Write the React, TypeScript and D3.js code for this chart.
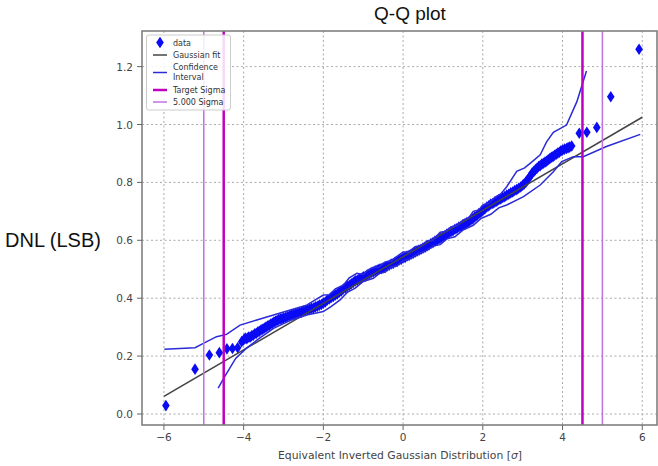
import React from 'react'
import * as d3 from 'd3'

// quantile positions and measured DNL of each code
const dataX = [-5.95, -5.22, -4.86, -4.61, -4.42, -4.28, -4.15,
  -4.05, -4.00, -3.96, -3.92, -3.88, -3.84, -3.80, -3.76, -3.72, -3.68, -3.64, -3.60, -3.56, -3.52, -3.48, -3.44, -3.40, -3.36, -3.32, -3.28, -3.24, -3.20, -3.16, -3.12, -3.08, -3.04,
  -3.00, -2.95, -2.90, -2.85, -2.80, -2.75, -2.70, -2.65, -2.60, -2.55, -2.50, -2.45, -2.40, -2.35, -2.30, -2.25, -2.20, -2.15, -2.10, -2.05,
  -2.00, -1.95, -1.90, -1.85, -1.80, -1.75, -1.70, -1.65, -1.60, -1.55, -1.50, -1.45, -1.40, -1.35, -1.30, -1.25, -1.20, -1.15, -1.10, -1.05,
  -1.00, -0.95, -0.90, -0.85, -0.80, -0.75, -0.70, -0.65, -0.60, -0.55, -0.50, -0.45, -0.40, -0.35, -0.30, -0.25, -0.20, -0.15, -0.10, -0.05,
  0.00, 0.05, 0.10, 0.15, 0.20, 0.25, 0.30, 0.35, 0.40, 0.45, 0.50, 0.55, 0.60, 0.65, 0.70, 0.75, 0.80, 0.85, 0.90, 0.95,
  1.00, 1.05, 1.10, 1.15, 1.20, 1.25, 1.30, 1.35, 1.40, 1.45, 1.50, 1.55, 1.60, 1.65, 1.70, 1.75, 1.80, 1.85, 1.90, 1.95,
  2.00, 2.05, 2.10, 2.15, 2.20, 2.25, 2.30, 2.35, 2.40, 2.45, 2.50, 2.55, 2.60, 2.65, 2.70, 2.75, 2.80, 2.85, 2.90, 2.95,
  3.00, 3.04, 3.08, 3.12, 3.16, 3.20, 3.24, 3.28, 3.32, 3.36, 3.40, 3.44, 3.48, 3.52, 3.56, 3.60, 3.64, 3.68, 3.72, 3.76, 3.80, 3.84, 3.88, 3.92, 3.96,
  4.00, 4.05, 4.10, 4.14, 4.18, 4.23, 4.42, 4.61, 4.86, 5.21, 5.92]
const dataY = [0.029, 0.155, 0.204, 0.212, 0.225, 0.226, 0.229,
  0.250, 0.256, 0.262, 0.260, 0.266, 0.265, 0.270, 0.272, 0.277, 0.279, 0.284, 0.286, 0.291, 0.293, 0.297, 0.300, 0.304, 0.306, 0.311, 0.313, 0.318, 0.320, 0.323, 0.326, 0.328, 0.329,
  0.332, 0.333, 0.337, 0.339, 0.343, 0.344, 0.347, 0.348, 0.351, 0.352, 0.356, 0.357, 0.361, 0.362, 0.365, 0.366, 0.370, 0.372, 0.376, 0.378,
  0.383, 0.387, 0.394, 0.397, 0.403, 0.406, 0.411, 0.415, 0.421, 0.425, 0.432, 0.435, 0.441, 0.444, 0.450, 0.454, 0.460, 0.462, 0.467, 0.469,
  0.474, 0.476, 0.481, 0.484, 0.489, 0.491, 0.495, 0.497, 0.501, 0.502, 0.505, 0.507, 0.511, 0.514, 0.518, 0.520, 0.525, 0.527, 0.532, 0.534,
  0.539, 0.541, 0.546, 0.548, 0.552, 0.555, 0.559, 0.562, 0.566, 0.569, 0.573, 0.576, 0.581, 0.584, 0.589, 0.592, 0.597, 0.600, 0.605, 0.608,
  0.613, 0.616, 0.622, 0.625, 0.630, 0.633, 0.638, 0.641, 0.646, 0.648, 0.653, 0.656, 0.661, 0.664, 0.670, 0.674, 0.681, 0.685, 0.692, 0.696,
  0.703, 0.708, 0.715, 0.719, 0.725, 0.727, 0.732, 0.735, 0.740, 0.743, 0.748, 0.751, 0.756, 0.759, 0.764, 0.767, 0.772, 0.775, 0.780, 0.784,
  0.790, 0.795, 0.801, 0.808, 0.816, 0.824, 0.833, 0.838, 0.844, 0.849, 0.855, 0.858, 0.863, 0.866, 0.870, 0.873, 0.878, 0.882, 0.887, 0.889, 0.894, 0.897, 0.901, 0.904, 0.909,
  0.911, 0.915, 0.917, 0.920, 0.922, 0.926, 0.970, 0.973, 0.990, 1.096, 1.260]

const fitX = [-6, 6]
const fitY = [0.061, 1.025]

const upperX = [-5.99, -5.22, -5.01, -4.68, -4.43, -4.09, -3.67, -3.25, -2.83, -2.42, -2.0, -1.85, -1.7, -1.5, -1.35, -1.16, -1.0, -0.9, -0.75, -0.6, -0.45, -0.3, -0.15, 0, 0.15, 0.3, 0.45, 0.6, 0.75, 0.93, 1.05, 1.2, 1.35, 1.5, 1.65, 1.76, 1.9, 2.0, 2.15, 2.3, 2.45, 2.6, 2.85, 3.05, 3.27, 3.44, 3.6, 3.77, 4.1, 4.36, 4.6]
const upperY = [0.224, 0.229, 0.244, 0.267, 0.275, 0.307, 0.325, 0.342, 0.359, 0.376, 0.411, 0.412, 0.432, 0.445, 0.470, 0.486, 0.482, 0.495, 0.505, 0.508, 0.525, 0.528, 0.545, 0.560, 0.560, 0.578, 0.582, 0.598, 0.600, 0.628, 0.630, 0.645, 0.650, 0.670, 0.678, 0.700, 0.705, 0.722, 0.728, 0.748, 0.760, 0.785, 0.838, 0.850, 0.875, 0.895, 0.940, 0.973, 0.998, 1.079, 1.185]
const lowerX = [-4.64, -4.45, -4.2, -3.95, -3.6, -3.25, -2.8, -2.42, -2.0, -1.8, -1.58, -1.4, -1.2, -1.0, -0.745, -0.6, -0.45, -0.3, -0.15, 0, 0.15, 0.4, 0.6, 0.75, 0.93, 1.1, 1.3, 1.5, 1.76, 1.95, 2.2, 2.4, 2.6, 3.02, 3.44, 3.77, 3.98, 4.27, 4.52, 5.1, 5.95]
const lowerY = [0.089, 0.135, 0.192, 0.225, 0.262, 0.296, 0.325, 0.342, 0.354, 0.372, 0.394, 0.420, 0.435, 0.458, 0.469, 0.485, 0.490, 0.508, 0.512, 0.530, 0.535, 0.555, 0.565, 0.580, 0.585, 0.605, 0.612, 0.635, 0.652, 0.675, 0.690, 0.712, 0.722, 0.751, 0.791, 0.837, 0.872, 0.889, 0.889, 0.924, 0.966]

const targetSigma = 4.5
const fiveSigma = 5
const xTicks = [-6, -4, -2, 0, 2, 4, 6]
const yTicks = [0, 0.2, 0.4, 0.6, 0.8, 1.0, 1.2]
const legendLabels = ['data', 'Gaussian fit', 'Confidence', 'Interval', 'Target Sigma', '5.000 Sigma']

const W = 658
const H = 466
const left = 142, right = 657, top = 31, bottom = 425

const BLUE = '#0a0af5'
const CI = '#2a2ad8'
const MAG = '#c000c0'
const VIO = '#c070e0'
const FONT = '"DejaVu Sans", sans-serif'

const App = () => {
  const x = d3.scaleLinear().domain([-6.55, 6.37]).range([left, right])
  const y = d3.scaleLinear().domain([-0.038, 1.323]).range([bottom, top])

  const line = d3.line<[number, number]>().x(d => x(d[0])).y(d => y(d[1]))
  const zip = (a: number[], b: number[]) => a.map((v, i) => [v, b[i]] as [number, number])
  const diamond = (cx: number, cy: number) =>
    `M${cx},${cy - 5.8}L${cx + 3.8},${cy}L${cx},${cy + 5.8}L${cx - 3.8},${cy}Z`

  const vLines = [
    { v: -fiveSigma, c: VIO, w: 1.5 },
    { v: fiveSigma, c: VIO, w: 1.5 },
    { v: -targetSigma, c: MAG, w: 2.5 },
    { v: targetSigma, c: MAG, w: 2.5 },
  ]

  const lx = 153, ltx = 173
  return (
    <svg width={W} height={H} style={{ position: 'absolute', left: 0, top: 0, background: '#fff' }}>
      <text x={410} y={20} textAnchor="middle" fontFamily="Arial, 'Liberation Sans', sans-serif" fontSize={19} fill="#111">Q-Q plot</text>
      <text x={5} y={247} fontFamily="Arial, 'Liberation Sans', sans-serif" fontSize={20} fill="#111">DNL (LSB)</text>

      <g stroke="#aaa" strokeWidth={1} strokeDasharray="2,2.5">
        {xTicks.map(t => <line key={'gx' + t} x1={x(t)} x2={x(t)} y1={top} y2={bottom} />)}
        {yTicks.map(t => <line key={'gy' + t} x1={left} x2={right} y1={y(t)} y2={y(t)} />)}
      </g>

      <g fill={BLUE}>
        {dataX.map((v, i) => <path key={i} d={diamond(x(v), y(dataY[i]))} />)}
      </g>
      <path d={line(zip(fitX, fitY)) || ''} fill="none" stroke="#444" strokeWidth={1.5} />
      <path d={line(zip(upperX, upperY)) || ''} fill="none" stroke={CI} strokeWidth={1.5} />
      <path d={line(zip(lowerX, lowerY)) || ''} fill="none" stroke={CI} strokeWidth={1.5} />

      {vLines.map((l, i) => <line key={i} x1={x(l.v)} x2={x(l.v)} y1={top} y2={bottom} stroke={l.c} strokeWidth={l.w} />)}

      <rect x={left} y={top} width={right - left} height={bottom - top} fill="none" stroke="#808080" strokeWidth={1.6} />

      <g fontFamily={FONT} fontSize={10.5} fill="#444">
        {xTicks.map(t => (
          <g key={'tx' + t}>
            <line x1={x(t)} x2={x(t)} y1={bottom} y2={bottom + 5} stroke="#666" />
            <text x={x(t)} y={441} textAnchor="middle">{d3.format('')(t).replace('-', '\u2212')}</text>
          </g>
        ))}
        {yTicks.map(t => (
          <g key={'ty' + t}>
            <line x1={left - 5} x2={left} y1={y(t)} y2={y(t)} stroke="#666" />
            <text x={133} y={y(t) + 4} textAnchor="end">{d3.format('.1f')(t)}</text>
          </g>
        ))}
        <text x={400} y={459} textAnchor="middle" fontSize={10.8}>Equivalent Inverted Gaussian Distribution [<tspan fontStyle="italic">σ</tspan>]</text>
      </g>

      <g fontFamily={FONT} fontSize={8} fill="#333">
        <rect x={146.5} y={35} width={84} height={75} rx={2} fill="#fff" fillOpacity={0.85} stroke="#ccc" strokeWidth={1} />
        <path d={diamond(160, 42.5)} fill={BLUE} />
        <line x1={lx} x2={lx + 14} y1={55} y2={55} stroke="#444" strokeWidth={1.5} />
        <line x1={lx} x2={lx + 14} y1={72.5} y2={72.5} stroke={CI} strokeWidth={1.5} />
        <line x1={lx} x2={lx + 14} y1={90} y2={90} stroke={MAG} strokeWidth={2.5} />
        <line x1={lx} x2={lx + 14} y1={102} y2={102} stroke={VIO} strokeWidth={1.5} />
        <text x={ltx} y={45.5}>{legendLabels[0]}</text>
        <text x={ltx} y={58}>{legendLabels[1]}</text>
        <text x={ltx} y={70}>{legendLabels[2]}</text>
        <text x={ltx} y={80}>{legendLabels[3]}</text>
        <text x={ltx} y={93}>{legendLabels[4]}</text>
        <text x={ltx} y={105}>{legendLabels[5]}</text>
      </g>
    </svg>
  )
}

export default App
